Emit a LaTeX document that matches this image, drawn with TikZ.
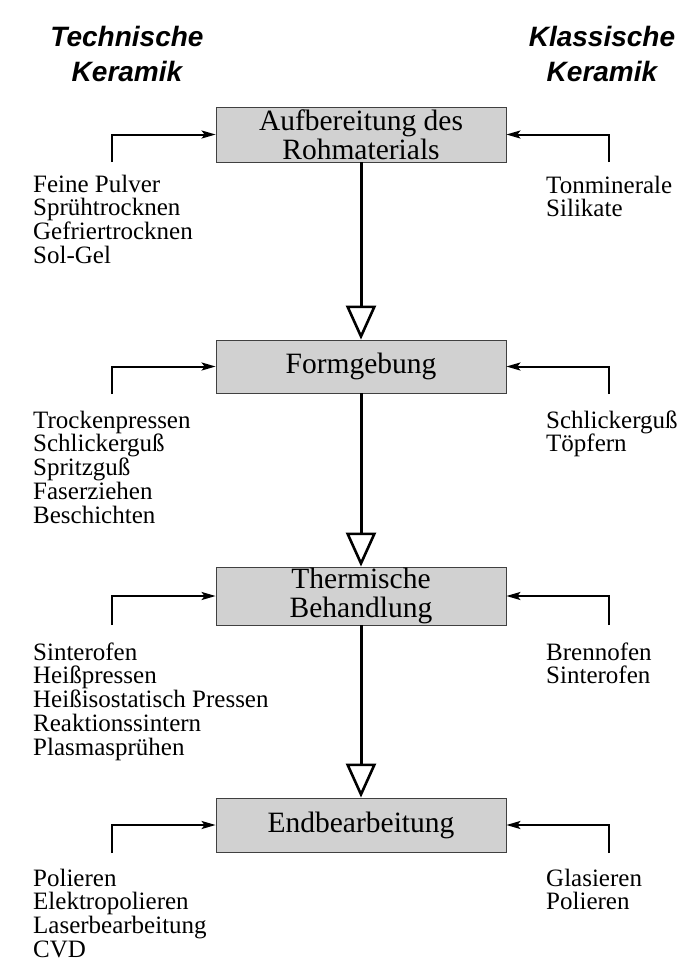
\documentclass[tikz,border=0pt]{standalone}
\usepackage{fontspec}
\setmainfont{Liberation Serif}
\newfontfamily\titlefont{Liberation Sans}
\usetikzlibrary{arrows.meta}
\tikzset{
  stage/.style={draw=black!75, line width=0.8pt, fill=black!18, minimum width=290pt,
    inner sep=0pt, align=center, font=\fontsize{29.5}{29}\selectfont},
  flow/.style={line width=3pt, -{Triangle[open, length=34pt, width=30pt, line width=2.6pt]}},
  feed/.style={line width=2pt, -{Stealth[length=14pt, width=8pt, inset=3pt]}},
  list/.style={anchor=base west, align=left, inner sep=0pt, font=\fontsize{25}{23.8}\selectfont},
  head/.style={anchor=base, align=center, inner sep=0pt, font=\titlefont\bfseries\itshape\fontsize{28}{35}\selectfont}
}
\begin{document}
\begin{tikzpicture}[x=1pt,y=-1pt]
\useasboundingbox[fill=white] (0,0) rectangle (693,962);
% titles (base anchor = last line)
\node[head] (tl) at (127,81) {Technische\\Keramik};
\node[head] (tr) at (602,81) {Klassische\\Keramik};
% stages
\node[stage, minimum height=55pt] (b1) at (361,134.5) {Aufbereitung des\\Rohmaterials};
\node[stage, minimum height=53pt] (b2) at (361,366.5) {Formgebung};
\node[stage, minimum height=58pt] (b3) at (361,596) {Thermische\\Behandlung};
\node[stage, minimum height=54pt] (b4) at (361,825) {Endbearbeitung};
% flow
\draw[flow] (b1.south) -- (b2.north);
\draw[flow] (b2.south) -- (b3.north);
\draw[flow] (b3.south) -- (b4.north);
% feeder corners
\coordinate (l1) at (112,162);
\coordinate (r1) at (609,162);
\coordinate (l2) at (112,394);
\coordinate (r2) at (609,394);
\coordinate (l3) at (112,625);
\coordinate (r3) at (609,625);
\coordinate (l4) at (112,853);
\coordinate (r4) at (609,853);
\draw[feed] (l1) |- (b1.west);
\draw[feed] (r1) |- (b1.east);
\draw[feed] (l2) |- (b2.west);
\draw[feed] (r2) |- (b2.east);
\draw[feed] (l3) |- (b3.west);
\draw[feed] (r3) |- (b3.east);
\draw[feed] (l4) |- (b4.west);
\draw[feed] (r4) |- (b4.east);
% lists (base anchor = baseline of last line)
\node[list] (t1) at (33,263.4) {Feine Pulver\\Sprühtrocknen\\Gefriertrocknen\\Sol-Gel};
\node[list] (k1) at (546,216.8) {Tonminerale\\Silikate};
\node[list] (t2) at (33,523.2) {Trockenpressen\\Schlickerguß\\Spritzguß\\Faserziehen\\Beschichten};
\node[list] (k2) at (546,451.8) {Schlickerguß\\Töpfern};
\node[list] (t3) at (33,755.2) {Sinterofen\\Heißpressen\\Heißisostatisch Pressen\\Reaktionssintern\\Plasmasprühen};
\node[list] (k3) at (546,683.8) {Brennofen\\Sinterofen};
\node[list] (t4) at (33,957.4) {Polieren\\Elektropolieren\\Laserbearbeitung\\CVD};
\node[list] (k4) at (546,909.8) {Glasieren\\Polieren};
\end{tikzpicture}
\end{document}
